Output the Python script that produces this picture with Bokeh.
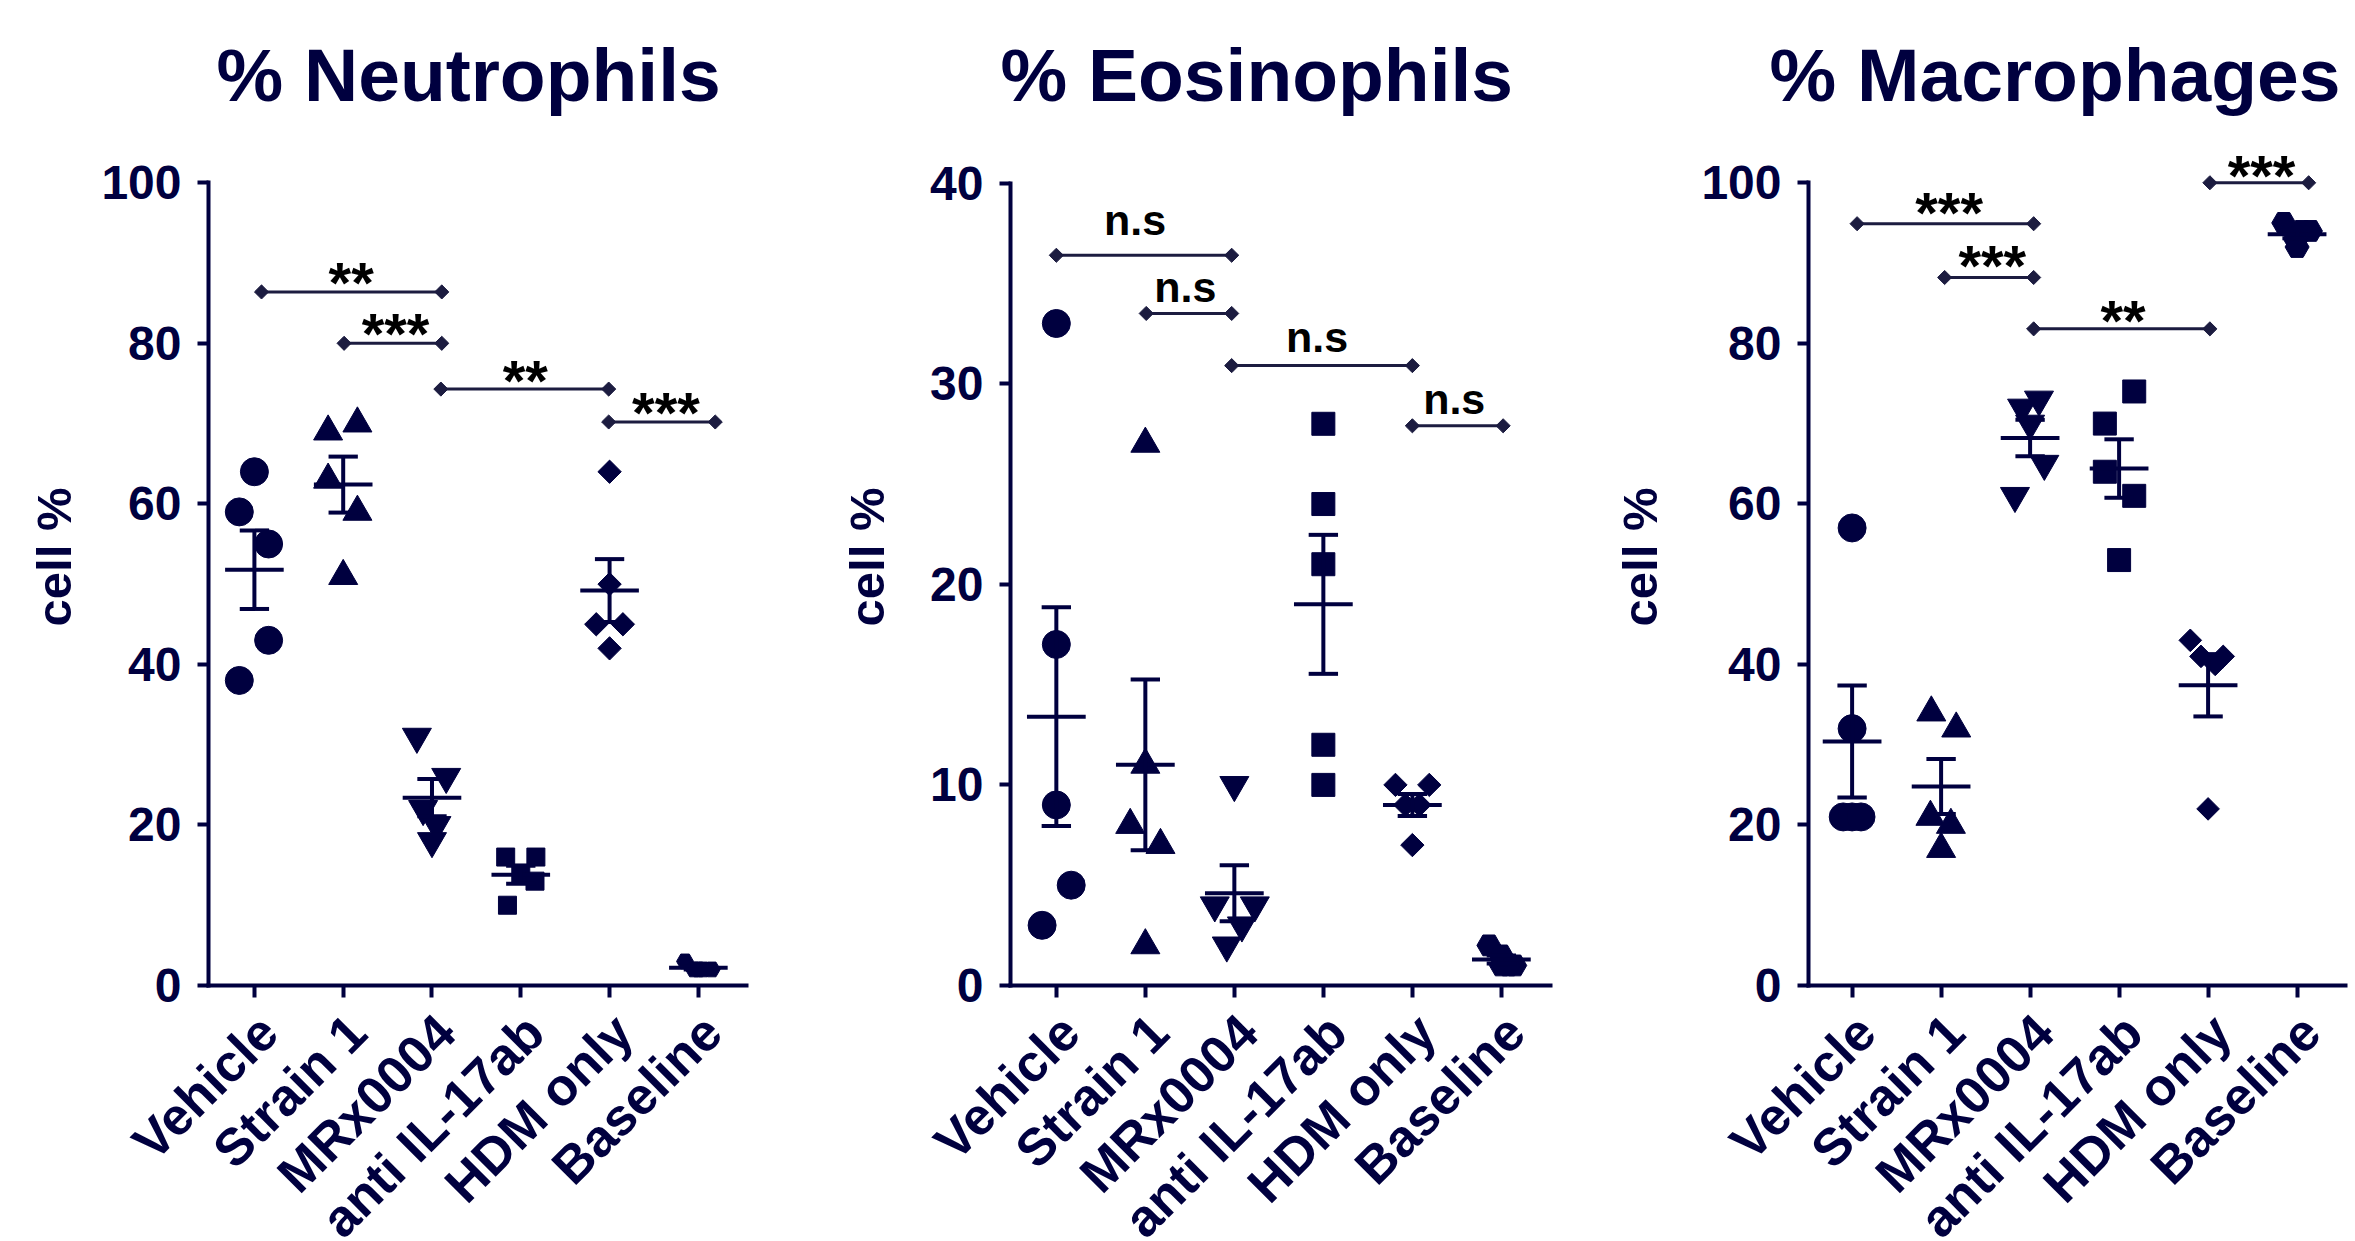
import numpy as np
from bokeh.plotting import figure
from bokeh.layouts import row, column
from bokeh.models import FixedTicker, Range1d
from bokeh.core.properties import value
from bokeh.embed import file_html
from bokeh.resources import INLINE

NAVY = "#00003f"
SIG = "#1c1c40"
FONT = "Liberation Sans"

categories = ["Vehicle", "Strain 1", "MRx0004", "anti IL-17ab", "HDM only", "Baseline"]
markers = ["circle", "triangle", "inverted_triangle", "square", "diamond", "hex"]

# ---------------- Neutrophils ----------------
neu_values = [
    [64, 59, 55, 43, 38],
    [69, 70, 63, 59, 51],
    [31, 26, 22, 20, 18],
    [16, 16, 14, 13, 10],
    [64, 50, 45, 45, 42],
    [3, 2, 2, 2, 2],
]
neu_jitter = [
    [0.0, -0.17, 0.16, 0.16, -0.17],
    [-0.17, 0.16, -0.17, 0.16, 0.0],
    [-0.17, 0.16, -0.10, 0.05, 0.0],
    [-0.17, 0.17, 0.0, 0.16, -0.15],
    [0.0, 0.0, -0.15, 0.15, 0.0],
    [-0.15, 0.0, 0.15, 0.05, -0.05],
]
neu_ticks = [0, 20, 40, 60, 80, 100]
neu_sig_x0 = [0.08, 1.01, 2.10, 3.99]
neu_sig_x1 = [2.11, 2.11, 3.99, 5.19]
neu_sig_y = [86.4, 80.0, 74.3, 70.2]
neu_sig_text = ["**", "***", "**", "***"]
neu_sig_tx = [1.09, 1.59, 3.05, 4.635]
neu_sig_ty = [88.2, 81.8, 76.0, 72.0]

# ---------------- Eosinophils ----------------
eos_values = [
    [33, 17, 9, 5, 3],
    [27, 11, 8, 7, 2],
    [10, 4, 4, 3, 2],
    [28, 24, 21, 12, 10],
    [10, 10, 9, 9, 7],
    [2, 1, 1, 1, 1.5],
]
eos_jitter = [
    [0.0, 0.0, 0.0, 0.167, -0.16],
    [0.0, 0.0, -0.17, 0.17, 0.0],
    [0.0, -0.22, 0.23, 0.085, -0.085],
    [0.0, 0.0, 0.0, 0.0, 0.0],
    [-0.19, 0.19, -0.08, 0.08, 0.0],
    [-0.14, 0.0, 0.15, 0.08, 0.0],
]
eos_ticks = [0, 10, 20, 30, 40]
eos_sig_x0 = [0.0, 1.01, 1.97, 4.0]
eos_sig_x1 = [1.97, 1.97, 4.0, 5.02]
eos_sig_y = [36.4, 33.5, 30.9, 27.9]
eos_sig_text = ["n.s", "n.s", "n.s", "n.s"]
eos_sig_tx = [0.885, 1.45, 2.93, 4.47]
eos_sig_ty = [37.4, 34.06, 31.57, 28.5]

# ---------------- Macrophages ----------------
mac_values = [
    [57, 32, 21, 21, 21],
    [34, 32, 21, 20, 17],
    [73, 72, 70, 65, 61],
    [74, 70, 64, 61, 53],
    [43, 41, 41, 40, 22],
    [95, 94, 94, 93, 92],
]
mac_jitter = [
    [0.0, 0.0, -0.1, 0.0, 0.1],
    [-0.11, 0.17, -0.12, 0.11, 0.0],
    [0.1, -0.09, 0.0, 0.16, -0.17],
    [0.17, -0.16, -0.16, 0.17, 0.0],
    [-0.2, -0.08, 0.17, 0.08, 0.0],
    [-0.15, 0.15, 0.05, -0.02, 0.0],
]
mac_ticks = [0, 20, 40, 60, 80, 100]
mac_sig_x0 = [0.056, 1.04, 2.04, 4.02]
mac_sig_x1 = [2.04, 2.04, 4.02, 5.13]
mac_sig_y = [94.9, 88.2, 81.8, 100.0]
mac_sig_text = ["***", "***", "**", "***"]
mac_sig_tx = [1.09, 1.575, 3.045, 4.60]
mac_sig_ty = [96.9, 90.3, 83.4, 101.5]

W = 785
TOTAL_W = 3 * W
MAIN_H = 1003
LAB_H = 1241 - MAIN_H
TOP_B = 128
BOT_B = 18
FRAME_H = MAIN_H - TOP_B - BOT_B
MEAN_HALF = 0.33
CAP_HALF = 0.165
LABEL_SHIFT_PX = 14
LABEL_Y = -20


def panel(title, values, jitter, ticks, ytop, sig, sizes, lay):
    (mbl, mbr, xs, xe, axis_end, lab_std, title_off) = lay
    ppu = FRAME_H / ytop
    p = figure(width=W, height=MAIN_H, x_range=Range1d(xs, xe), y_range=Range1d(0, ytop),
               output_backend="svg", toolbar_location=None,
               min_border_left=mbl, min_border_right=mbr, min_border_top=TOP_B,
               min_border_bottom=BOT_B)
    p.outline_line_color = None
    p.grid.visible = False

    p.title.text = title
    p.title.text_font = FONT
    p.title.text_font_size = "75px"
    p.title.text_font_style = "bold"
    p.title.text_color = NAVY
    p.title.align = "left"
    p.title.offset = title_off
    p.title.standoff = 24

    for i, (vals, jit) in enumerate(zip(values, jitter)):
        m = markers[i]
        xsx = [i + j for j in jit]
        if m == "diamond":
            p.scatter(x=xsx, y=vals, marker="square", angle=np.pi / 4, size=sizes[i],
                      fill_color=NAVY, line_color=NAVY)
        else:
            p.scatter(x=xsx, y=vals, marker=m, size=sizes[i], fill_color=NAVY, line_color=NAVY)

    for i, vals in enumerate(values):
        v = np.array(vals, dtype=float)
        mu = v.mean()
        se = v.std(ddof=1) / np.sqrt(len(v))
        p.segment(x0=[i - MEAN_HALF, i, i - CAP_HALF, i - CAP_HALF],
                  y0=[mu, mu - se, mu + se, mu - se],
                  x1=[i + MEAN_HALF, i, i + CAP_HALF, i + CAP_HALF],
                  y1=[mu, mu + se, mu + se, mu - se],
                  line_width=4, line_color=NAVY)

    x0, x1, yb, txt, tx, ty, fs, is_star = sig
    p.segment(x0=x0, y0=yb, x1=x1, y1=yb, line_width=3, line_color=SIG)
    p.scatter(x=list(x0) + list(x1), y=list(yb) + list(yb), marker="square", angle=np.pi / 4,
              size=10, fill_color=SIG, line_color=SIG)
    if is_star:
        ty2 = [t - 0.08 * fs / ppu for t in ty]
    else:
        ty2 = [t + 0.35 * fs / ppu for t in ty]
    p.text(x=tx, y=ty2, text=txt, text_align="center", text_baseline="alphabetic",
           text_font=value(FONT), text_font_style="bold", text_font_size=f"{fs}px",
           text_color="black")

    xa = p.xaxis[0]
    xa.ticker = FixedTicker(ticks=list(range(len(categories))))
    xa.major_label_overrides = {i: "" for i in range(len(categories))}
    xa.major_label_text_font_size = "1px"
    xa.major_label_standoff = 0
    xa.bounds = (xs, axis_end)
    xa.axis_line_width = 4
    xa.axis_line_color = NAVY
    xa.axis_line_cap = "square"
    xa.major_tick_line_width = 4
    xa.major_tick_line_color = NAVY
    xa.major_tick_out = 12
    xa.major_tick_in = 0
    xa.minor_tick_out = 0
    xa.minor_tick_in = 0

    ya = p.yaxis[0]
    ya.ticker = FixedTicker(ticks=ticks)
    ya.bounds = (0, ticks[-1])
    ya.axis_line_width = 4
    ya.axis_line_color = NAVY
    ya.axis_line_cap = "square"
    ya.major_tick_line_width = 4
    ya.major_tick_line_color = NAVY
    ya.major_tick_out = 11
    ya.major_tick_in = 0
    ya.minor_tick_out = 0
    ya.minor_tick_in = 0
    ya.major_label_standoff = 16
    ya.major_label_text_font = FONT
    ya.major_label_text_font_size = "48px"
    ya.major_label_text_font_style = "bold"
    ya.major_label_text_color = NAVY
    ya.axis_label = "cell %"
    ya.axis_label_text_font = FONT
    ya.axis_label_text_font_size = "49px"
    ya.axis_label_text_font_style = "bold"
    ya.axis_label_text_color = NAVY
    ya.axis_label_standoff = lab_std
    return p


layouts = [
    (208, 20, -0.517, 5.756, 5.54, 17, 8),
    (225, 20, -0.515, 5.552, 5.55, 33, -10),
    (238, 10, -0.49, 5.544, 5.544, 31, -39),
]

p1 = panel("% Neutrophils", neu_values, neu_jitter, neu_ticks, 106.76,
           (neu_sig_x0, neu_sig_x1, neu_sig_y, neu_sig_text, neu_sig_tx, neu_sig_ty, 58, True),
           [28, 29, 29, 18, 16.5, 17], layouts[0])
p2 = panel("% Eosinophils", eos_values, eos_jitter, eos_ticks, 42.72,
           (eos_sig_x0, eos_sig_x1, eos_sig_y, eos_sig_text, eos_sig_tx, eos_sig_ty, 43, False),
           [28, 29, 29, 23, 16.5, 24], layouts[1])
p3 = panel("% Macrophages", mac_values, mac_jitter, mac_ticks, 106.76,
           (mac_sig_x0, mac_sig_x1, mac_sig_y, mac_sig_text, mac_sig_tx, mac_sig_ty, 58, True),
           [28, 29, 29, 23, 16, 24], layouts[2])

# One strip under the three panels, holding the slanted category labels.
# Each panel gets its own x range here, mapped exactly like that panel's x axis.
q = figure(width=TOTAL_W, height=LAB_H, x_range=Range1d(0, TOTAL_W),
           y_range=Range1d(-LAB_H, 0), output_backend="svg", toolbar_location=None,
           x_axis_location=None, y_axis_location=None,
           min_border_left=0, min_border_right=0, min_border_top=0, min_border_bottom=0)
q.outline_line_color = None
q.grid.visible = False
extra = {}
for k, (mbl, mbr, xs, xe, _a, _b, _c) in enumerate(layouts):
    ppx = (W - mbl - mbr) / (xe - xs)
    start = xs - (k * W + mbl) / ppx
    extra[f"p{k}"] = Range1d(start, start + TOTAL_W / ppx)
q.extra_x_ranges = extra
for k in range(3):
    q.text(x=list(range(len(categories))), y=[LABEL_Y] * len(categories), text=categories,
           x_range_name=f"p{k}", angle=np.pi / 4, x_offset=LABEL_SHIFT_PX,
           text_align="right", text_baseline="alphabetic",
           text_font=value(FONT), text_font_size="52px", text_font_style="bold",
           text_color=NAVY)

layout = column(row(p1, p2, p3, spacing=0), q, spacing=0)
open("out.html", "w").write(file_html(layout, INLINE))
